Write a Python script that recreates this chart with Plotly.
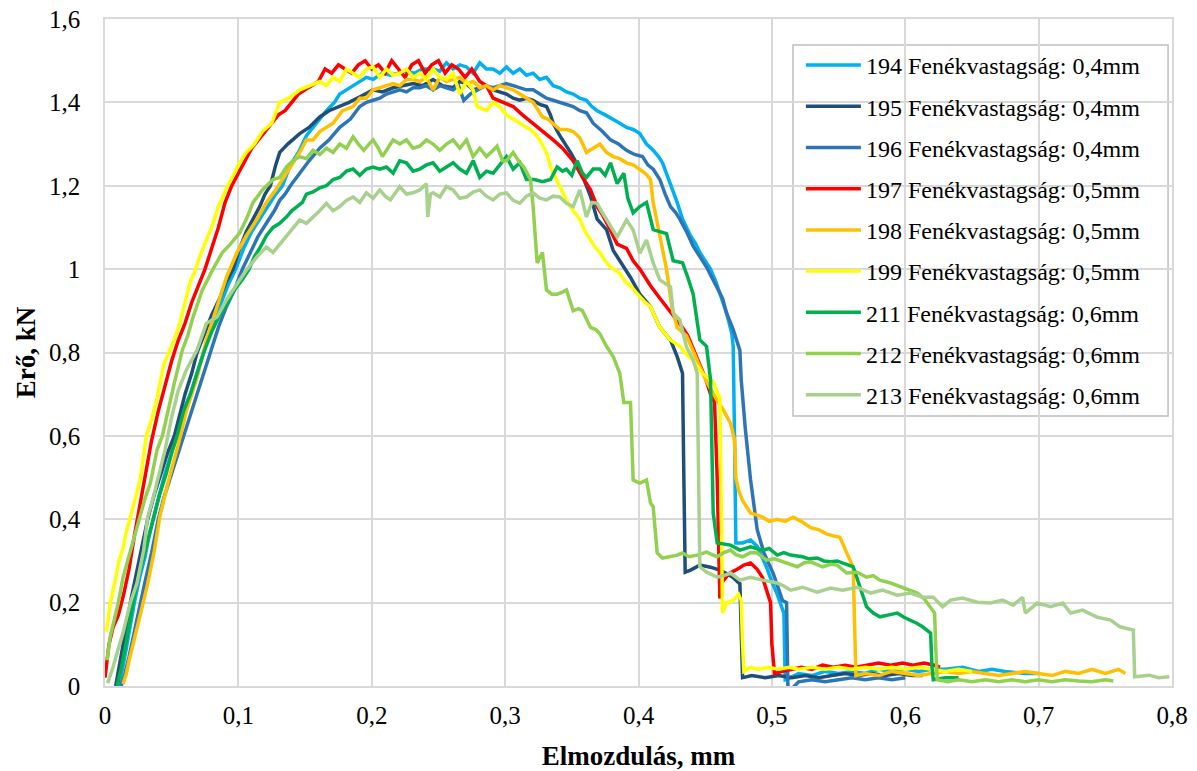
import plotly.graph_objects as go

# ---------------- data ----------------
names = ["194 Fenékvastagság: 0,4mm", "195 Fenékvastagság: 0,4mm", "196 Fenékvastagság: 0,4mm",
         "197 Fenékvastagság: 0,5mm", "198 Fenékvastagság: 0,5mm", "199 Fenékvastagság: 0,5mm",
         "211 Fenékvastagság: 0,6mm", "212 Fenékvastagság: 0,6mm", "213 Fenékvastagság: 0,6mm"]
colors = ["#00B0F0", "#1F4E79", "#2E75B6", "#FF0000", "#FFC000", "#FFFF00", "#00B050", "#92D050", "#A9D18E"]

x_194 = [0.01, 0.013, 0.016, 0.019, 0.022, 0.026, 0.03, 0.033, 0.036, 0.04,
         0.045, 0.05, 0.054, 0.059, 0.064, 0.069, 0.074, 0.08, 0.086, 0.092,
         0.098, 0.104, 0.11, 0.116, 0.122, 0.128, 0.133, 0.139, 0.145, 0.151,
         0.156, 0.161, 0.166, 0.172, 0.176, 0.181, 0.186, 0.191, 0.196, 0.201,
         0.208, 0.214, 0.22, 0.226, 0.232, 0.238, 0.246, 0.251, 0.256, 0.261,
         0.266, 0.271, 0.276, 0.281, 0.286, 0.291, 0.296, 0.301, 0.306, 0.311,
         0.316, 0.321, 0.326, 0.331, 0.336, 0.341, 0.346, 0.351, 0.356, 0.361,
         0.365, 0.369, 0.375, 0.381, 0.386, 0.391, 0.396, 0.401, 0.406, 0.411,
         0.415, 0.418, 0.421, 0.424, 0.429, 0.433, 0.436, 0.439, 0.443, 0.446,
         0.45, 0.454, 0.458, 0.461, 0.466, 0.47, 0.471, 0.472, 0.473, 0.478,
         0.484, 0.489, 0.496, 0.5, 0.504, 0.509, 0.51, 0.514, 0.52, 0.53,
         0.54, 0.55, 0.56, 0.57, 0.58, 0.59, 0.6, 0.61, 0.62, 0.63,
         0.643, 0.655, 0.665, 0.675, 0.69, 0.7]
y_194 = [0.0, 0.04, 0.09, 0.15, 0.2, 0.26, 0.31, 0.36, 0.4, 0.45,
         0.51, 0.56, 0.6, 0.66, 0.7, 0.75, 0.8, 0.86, 0.91, 0.96,
         1.0, 1.05, 1.09, 1.12, 1.15, 1.18, 1.2, 1.25, 1.28, 1.32,
         1.34, 1.36, 1.38, 1.4, 1.42, 1.43, 1.44, 1.45, 1.46, 1.455,
         1.47, 1.465, 1.47, 1.475, 1.47, 1.48, 1.48, 1.475, 1.495, 1.48,
         1.49, 1.485, 1.47, 1.495, 1.48, 1.48, 1.47, 1.485, 1.47, 1.48,
         1.465, 1.47, 1.455, 1.46, 1.44, 1.435, 1.425, 1.42, 1.41, 1.405,
         1.39, 1.38, 1.37, 1.36, 1.35, 1.34, 1.335, 1.325, 1.3, 1.285,
         1.27, 1.255, 1.23, 1.2, 1.16, 1.12, 1.1, 1.08, 1.06, 1.04,
         1.02, 1.0, 0.97, 0.94, 0.895, 0.845, 0.815, 0.6, 0.343, 0.343,
         0.35, 0.335, 0.285, 0.25, 0.22, 0.175, 0.015, 0.02, 0.03, 0.025,
         0.035, 0.03, 0.035, 0.03, 0.04, 0.035, 0.04, 0.035, 0.04, 0.04,
         0.045, 0.035, 0.04, 0.035, 0.03, 0.03]

x_195 = [0.008, 0.011, 0.014, 0.017, 0.019, 0.023, 0.027, 0.032, 0.037, 0.042,
         0.047, 0.052, 0.056, 0.06, 0.065, 0.069, 0.074, 0.08, 0.086, 0.091,
         0.096, 0.101, 0.106, 0.111, 0.116, 0.12, 0.124, 0.128, 0.131, 0.137,
         0.146, 0.153, 0.161, 0.168, 0.176, 0.183, 0.189, 0.195, 0.201, 0.208,
         0.216, 0.223, 0.231, 0.238, 0.246, 0.253, 0.261, 0.266, 0.271, 0.276,
         0.281, 0.286, 0.291, 0.296, 0.301, 0.306, 0.311, 0.316, 0.321, 0.326,
         0.331, 0.334, 0.336, 0.341, 0.345, 0.349, 0.356, 0.36, 0.364, 0.369,
         0.376, 0.381, 0.386, 0.39, 0.394, 0.401, 0.405, 0.409, 0.416, 0.42,
         0.424, 0.429, 0.433, 0.434, 0.435, 0.439, 0.446, 0.454, 0.461, 0.466,
         0.471, 0.476, 0.477, 0.478, 0.485, 0.495, 0.505, 0.515, 0.525, 0.535,
         0.545, 0.555, 0.565, 0.575, 0.585, 0.595, 0.605, 0.613]
y_195 = [0.0, 0.05, 0.1, 0.16, 0.2, 0.26, 0.32, 0.4, 0.46, 0.51,
         0.56, 0.6, 0.65, 0.7, 0.75, 0.8, 0.84, 0.89, 0.93, 0.97,
         1.0, 1.05, 1.09, 1.12, 1.15, 1.18, 1.2, 1.25, 1.28, 1.3,
         1.325, 1.34, 1.365, 1.38, 1.39, 1.4, 1.41, 1.42, 1.43, 1.425,
         1.435, 1.44, 1.445, 1.44, 1.455, 1.44, 1.435, 1.45, 1.445, 1.43,
         1.435, 1.44, 1.43, 1.425, 1.42, 1.41, 1.405, 1.41, 1.405, 1.395,
         1.39, 1.37, 1.35, 1.32, 1.3, 1.28, 1.24, 1.21, 1.175, 1.12,
         1.095, 1.045, 1.02, 1.0, 0.98, 0.94, 0.925, 0.91, 0.86, 0.845,
         0.83, 0.79, 0.75, 0.5, 0.273, 0.278, 0.29, 0.285, 0.278, 0.27,
         0.26, 0.245, 0.12, 0.02, 0.025, 0.02, 0.025, 0.02, 0.025, 0.02,
         0.025, 0.03, 0.025, 0.03, 0.025, 0.03, 0.025, 0.025]

x_196 = [0.012, 0.015, 0.018, 0.022, 0.026, 0.03, 0.035, 0.04, 0.044, 0.049,
         0.054, 0.059, 0.064, 0.069, 0.074, 0.079, 0.085, 0.091, 0.097, 0.103,
         0.109, 0.115, 0.121, 0.127, 0.131, 0.135, 0.139, 0.146, 0.153, 0.161,
         0.168, 0.176, 0.184, 0.191, 0.196, 0.201, 0.206, 0.211, 0.216, 0.221,
         0.226, 0.231, 0.236, 0.241, 0.246, 0.251, 0.256, 0.261, 0.265, 0.269,
         0.274, 0.279, 0.285, 0.291, 0.296, 0.301, 0.306, 0.311, 0.316, 0.321,
         0.326, 0.331, 0.336, 0.341, 0.346, 0.351, 0.356, 0.361, 0.366, 0.373,
         0.379, 0.385, 0.391, 0.397, 0.403, 0.407, 0.411, 0.416, 0.42, 0.424,
         0.428, 0.431, 0.436, 0.441, 0.446, 0.451, 0.455, 0.459, 0.463, 0.466,
         0.471, 0.476, 0.477, 0.48, 0.484, 0.489, 0.494, 0.501, 0.508, 0.511,
         0.512, 0.514, 0.52, 0.53, 0.54, 0.55, 0.56, 0.57, 0.58, 0.59, 0.6]
y_196 = [0.0, 0.03, 0.07, 0.13, 0.2, 0.25, 0.32, 0.4, 0.45, 0.5,
         0.55, 0.6, 0.65, 0.7, 0.75, 0.8, 0.86, 0.91, 0.95, 1.0,
         1.04, 1.08, 1.11, 1.14, 1.165, 1.18, 1.2, 1.23, 1.26, 1.29,
         1.31, 1.34, 1.36, 1.39, 1.4, 1.405, 1.41, 1.42, 1.425, 1.43,
         1.425, 1.435, 1.435, 1.44, 1.43, 1.44, 1.435, 1.43, 1.44, 1.405,
         1.42, 1.43, 1.44, 1.435, 1.44, 1.445, 1.44, 1.435, 1.43, 1.43,
         1.42, 1.41, 1.405, 1.4, 1.395, 1.39, 1.38, 1.375, 1.35, 1.33,
         1.31, 1.3, 1.285, 1.275, 1.27, 1.25, 1.24, 1.215, 1.18, 1.15,
         1.135, 1.12, 1.09, 1.055, 1.03, 1.005, 0.98, 0.957, 0.93, 0.895,
         0.855, 0.805, 0.735, 0.62, 0.495, 0.375, 0.32, 0.27, 0.205, 0.2,
         0.0, -0.01, 0.01, 0.015, 0.01, 0.015, 0.02, 0.015, 0.02, 0.015, 0.02]

x_197 = [0, 0.003, 0.006, 0.01, 0.014, 0.018, 0.022, 0.026, 0.03, 0.035,
         0.04, 0.045, 0.05, 0.055, 0.06, 0.065, 0.07, 0.075, 0.08, 0.085,
         0.09, 0.095, 0.1, 0.105, 0.11, 0.115, 0.12, 0.125, 0.13, 0.135,
         0.14, 0.145, 0.15, 0.155, 0.16, 0.165, 0.17, 0.175, 0.18, 0.185,
         0.19, 0.195, 0.2, 0.205, 0.21, 0.215, 0.22, 0.225, 0.23, 0.235,
         0.24, 0.245, 0.25, 0.255, 0.26, 0.265, 0.27, 0.275, 0.281, 0.286,
         0.291, 0.298, 0.306, 0.313, 0.321, 0.328, 0.336, 0.343, 0.351, 0.358,
         0.364, 0.369, 0.373, 0.378, 0.384, 0.391, 0.396, 0.401, 0.405, 0.409,
         0.416, 0.421, 0.426, 0.433, 0.437, 0.441, 0.446, 0.45, 0.454, 0.457,
         0.459, 0.46, 0.461, 0.463, 0.468, 0.474, 0.479, 0.484, 0.489, 0.493,
         0.497, 0.499, 0.5, 0.502, 0.508, 0.515, 0.522, 0.53, 0.538, 0.546,
         0.555, 0.563, 0.572, 0.58, 0.589, 0.598, 0.606, 0.614, 0.622, 0.626]
y_197 = [0.02, 0.1, 0.14, 0.17, 0.22, 0.28, 0.36, 0.43, 0.5, 0.59,
         0.66, 0.72, 0.78, 0.83, 0.87, 0.92, 0.96, 1.0, 1.05, 1.1,
         1.16, 1.2, 1.23, 1.26, 1.29, 1.31, 1.33, 1.35, 1.37, 1.38,
         1.4, 1.42, 1.43, 1.44, 1.45, 1.48, 1.47, 1.49, 1.48, 1.47,
         1.49, 1.5, 1.48, 1.49, 1.47, 1.5, 1.48, 1.46, 1.49, 1.5,
         1.47, 1.49, 1.5, 1.47, 1.49, 1.48, 1.46, 1.48, 1.45, 1.44,
         1.41, 1.4, 1.39, 1.37, 1.35, 1.33, 1.31, 1.29, 1.26, 1.22,
         1.19, 1.15, 1.13, 1.1, 1.06, 1.05, 1.02, 1.0, 0.98, 0.96,
         0.93, 0.91, 0.89, 0.86, 0.84, 0.81, 0.77, 0.74, 0.7, 0.68,
         0.5, 0.3, 0.21, 0.25, 0.27, 0.28, 0.29, 0.295, 0.28, 0.26,
         0.22, 0.2, 0.1, 0.03, 0.035, 0.04, 0.045, 0.04, 0.05, 0.045,
         0.05, 0.045, 0.05, 0.055, 0.05, 0.055, 0.05, 0.055, 0.05, 0.045]

x_198 = [0.0135, 0.016, 0.018, 0.021, 0.026, 0.029, 0.032, 0.037, 0.041, 0.047,
         0.051, 0.055, 0.061, 0.065, 0.069, 0.076, 0.08, 0.084, 0.091, 0.099,
         0.106, 0.114, 0.121, 0.128, 0.136, 0.14, 0.146, 0.151, 0.156, 0.161,
         0.166, 0.171, 0.178, 0.186, 0.191, 0.196, 0.201, 0.206, 0.211, 0.216,
         0.221, 0.226, 0.231, 0.236, 0.241, 0.246, 0.251, 0.256, 0.261, 0.266,
         0.271, 0.276, 0.281, 0.286, 0.291, 0.296, 0.301, 0.306, 0.311, 0.316,
         0.321, 0.325, 0.328, 0.332, 0.336, 0.341, 0.346, 0.351, 0.356, 0.361,
         0.366, 0.371, 0.376, 0.381, 0.386, 0.391, 0.396, 0.401, 0.405, 0.409,
         0.411, 0.416, 0.421, 0.425, 0.429, 0.436, 0.441, 0.446, 0.451, 0.459,
         0.464, 0.469, 0.472, 0.473, 0.475, 0.478, 0.484, 0.489, 0.493, 0.498,
         0.504, 0.51, 0.516, 0.522, 0.529, 0.535, 0.541, 0.546, 0.551, 0.556,
         0.561, 0.562, 0.563, 0.57, 0.58, 0.59, 0.6, 0.61, 0.62, 0.63,
         0.64, 0.65, 0.66, 0.67, 0.68, 0.69, 0.7, 0.71, 0.72, 0.73,
         0.74, 0.75, 0.76, 0.765]
y_198 = [0.005, 0.03, 0.06, 0.1, 0.165, 0.2, 0.245, 0.325, 0.405, 0.485,
         0.53, 0.58, 0.66, 0.7, 0.74, 0.83, 0.87, 0.91, 0.98, 1.04,
         1.08, 1.12, 1.16, 1.19, 1.23, 1.25, 1.28, 1.31, 1.31, 1.33,
         1.34, 1.35, 1.38, 1.39, 1.41, 1.41, 1.43, 1.435, 1.44, 1.445,
         1.44, 1.455, 1.455, 1.45, 1.46, 1.43, 1.46, 1.45, 1.455, 1.46,
         1.445, 1.45, 1.435, 1.44, 1.43, 1.44, 1.435, 1.43, 1.42, 1.41,
         1.4, 1.38, 1.365, 1.36, 1.35, 1.335, 1.335, 1.33, 1.315, 1.28,
         1.29, 1.3, 1.28, 1.27, 1.265, 1.255, 1.25, 1.24, 1.23, 1.215,
         1.16, 1.08, 1.0, 0.91, 0.86, 0.84, 0.805, 0.765, 0.73, 0.685,
         0.66, 0.63, 0.59, 0.5, 0.47, 0.445, 0.415, 0.41, 0.405, 0.395,
         0.4, 0.395, 0.405, 0.395, 0.38, 0.375, 0.365, 0.36, 0.357, 0.32,
         0.285, 0.15, 0.025, 0.03, 0.025, 0.035, 0.03, 0.025, 0.03, 0.035,
         0.03, 0.035, 0.03, 0.025, 0.03, 0.035, 0.03, 0.025, 0.035, 0.03,
         0.04, 0.03, 0.04, 0.03]

x_199 = [0.001, 0.004, 0.0075, 0.0105, 0.0135, 0.016, 0.019, 0.022, 0.026, 0.028,
         0.031, 0.035, 0.039, 0.044, 0.049, 0.053, 0.056, 0.06, 0.064, 0.068,
         0.071, 0.076, 0.08, 0.085, 0.092, 0.097, 0.1, 0.106, 0.112, 0.118,
         0.125, 0.131, 0.138, 0.146, 0.153, 0.161, 0.166, 0.171, 0.176, 0.181,
         0.186, 0.191, 0.196, 0.201, 0.206, 0.211, 0.216, 0.221, 0.226, 0.231,
         0.236, 0.241, 0.246, 0.251, 0.256, 0.261, 0.266, 0.271, 0.276, 0.279,
         0.286, 0.291, 0.296, 0.301, 0.306, 0.311, 0.316, 0.321, 0.326, 0.331,
         0.334, 0.339, 0.346, 0.351, 0.356, 0.36, 0.364, 0.368, 0.371, 0.375,
         0.379, 0.386, 0.39, 0.394, 0.398, 0.401, 0.405, 0.409, 0.413, 0.416,
         0.42, 0.424, 0.431, 0.436, 0.441, 0.448, 0.452, 0.456, 0.461, 0.462,
         0.463, 0.466, 0.471, 0.475, 0.477, 0.478, 0.479, 0.484, 0.49, 0.497,
         0.505, 0.513, 0.52, 0.53, 0.54, 0.55, 0.56, 0.57, 0.58, 0.59,
         0.6, 0.61, 0.62, 0.63, 0.64, 0.65]
y_199 = [0.13, 0.2, 0.25, 0.3, 0.33, 0.37, 0.405, 0.44, 0.49, 0.53,
         0.6, 0.64, 0.69, 0.77, 0.81, 0.84, 0.87, 0.92, 0.97, 1.0,
         1.03, 1.07, 1.1, 1.15, 1.2, 1.23, 1.25, 1.28, 1.3, 1.33,
         1.35, 1.4, 1.41, 1.43, 1.44, 1.45, 1.44, 1.46, 1.45, 1.48,
         1.47, 1.46, 1.48, 1.485, 1.46, 1.48, 1.465, 1.47, 1.48, 1.46,
         1.47, 1.455, 1.48, 1.46, 1.455, 1.47, 1.42, 1.45, 1.43, 1.39,
         1.38, 1.4, 1.39, 1.37, 1.36, 1.35, 1.34, 1.33, 1.31, 1.28,
         1.245, 1.21, 1.165, 1.14, 1.12, 1.09, 1.07, 1.05, 1.04, 1.02,
         1.005, 0.99, 0.97, 0.96, 0.945, 0.935, 0.92, 0.91, 0.88, 0.86,
         0.845, 0.83, 0.815, 0.795, 0.78, 0.75, 0.74, 0.73, 0.69, 0.45,
         0.175, 0.2, 0.205, 0.22, 0.205, 0.1, 0.035, 0.045, 0.04, 0.045,
         0.04, 0.045, 0.04, 0.045, 0.04, 0.045, 0.04, 0.045, 0.04, 0.045,
         0.04, 0.045, 0.04, 0.035, 0.04, 0.035]

x_211 = [0.009, 0.012, 0.015, 0.018, 0.021, 0.025, 0.029, 0.033, 0.036, 0.041,
         0.046, 0.05, 0.054, 0.059, 0.064, 0.069, 0.074, 0.08, 0.086, 0.092,
         0.097, 0.103, 0.108, 0.112, 0.116, 0.121, 0.126, 0.131, 0.136, 0.14,
         0.144, 0.148, 0.151, 0.156, 0.161, 0.166, 0.171, 0.176, 0.181, 0.186,
         0.191, 0.196, 0.201, 0.206, 0.211, 0.216, 0.221, 0.226, 0.231, 0.236,
         0.241, 0.246, 0.251, 0.256, 0.261, 0.266, 0.271, 0.276, 0.281, 0.286,
         0.291, 0.296, 0.301, 0.306, 0.311, 0.316, 0.322, 0.328, 0.334, 0.339,
         0.343, 0.346, 0.35, 0.354, 0.358, 0.361, 0.366, 0.371, 0.375, 0.379,
         0.384, 0.389, 0.392, 0.396, 0.401, 0.406, 0.411, 0.416, 0.421, 0.426,
         0.433, 0.437, 0.441, 0.446, 0.451, 0.454, 0.455, 0.456, 0.459, 0.464,
         0.469, 0.476, 0.484, 0.493, 0.498, 0.504, 0.509, 0.514, 0.523, 0.528,
         0.534, 0.539, 0.544, 0.549, 0.553, 0.561, 0.566, 0.571, 0.576, 0.581,
         0.587, 0.594, 0.599, 0.604, 0.609, 0.613, 0.619, 0.62, 0.621, 0.63,
         0.64]
y_211 = [0.0, 0.04, 0.09, 0.15, 0.2, 0.26, 0.31, 0.36, 0.4, 0.46,
         0.51, 0.56, 0.6, 0.66, 0.7, 0.75, 0.8, 0.85, 0.89, 0.92,
         0.95, 0.975, 1.0, 1.03, 1.05, 1.08, 1.1, 1.11, 1.125, 1.14,
         1.15, 1.16, 1.18, 1.185, 1.195, 1.2, 1.215, 1.22, 1.235, 1.24,
         1.225, 1.24, 1.245, 1.24, 1.245, 1.23, 1.26, 1.255, 1.235, 1.24,
         1.25, 1.255, 1.235, 1.245, 1.255, 1.24, 1.23, 1.26, 1.22, 1.235,
         1.23, 1.25, 1.27, 1.24, 1.255, 1.215, 1.215, 1.21, 1.215, 1.245,
         1.235, 1.24, 1.225, 1.26, 1.23, 1.22, 1.24, 1.24, 1.225, 1.255,
         1.205, 1.23, 1.17, 1.135, 1.15, 1.16, 1.095, 1.09, 1.085, 1.02,
         1.015, 0.98, 0.94, 0.83, 0.815, 0.735, 0.575, 0.415, 0.343, 0.34,
         0.338, 0.326, 0.334, 0.326, 0.33, 0.314, 0.32, 0.314, 0.31, 0.305,
         0.307, 0.3, 0.298, 0.3, 0.295, 0.286, 0.238, 0.19, 0.175, 0.166,
         0.17, 0.175, 0.165, 0.158, 0.15, 0.142, 0.127, 0.05, 0.015, 0.02,
         0.02]

x_212 = [0.0015, 0.004, 0.007, 0.01, 0.0135, 0.017, 0.021, 0.026, 0.03, 0.034,
         0.039, 0.043, 0.046, 0.052, 0.058, 0.062, 0.066, 0.073, 0.081, 0.088,
         0.094, 0.101, 0.106, 0.111, 0.118, 0.126, 0.131, 0.136, 0.141, 0.146,
         0.151, 0.156, 0.161, 0.166, 0.171, 0.176, 0.181, 0.186, 0.19, 0.194,
         0.198, 0.201, 0.205, 0.208, 0.212, 0.216, 0.221, 0.226, 0.231, 0.236,
         0.241, 0.246, 0.251, 0.256, 0.261, 0.266, 0.271, 0.276, 0.281, 0.286,
         0.291, 0.294, 0.298, 0.301, 0.306, 0.31, 0.314, 0.319, 0.321, 0.324,
         0.328, 0.331, 0.335, 0.339, 0.343, 0.346, 0.351, 0.355, 0.358, 0.364,
         0.368, 0.371, 0.376, 0.381, 0.386, 0.389, 0.394, 0.395, 0.396, 0.401,
         0.406, 0.409, 0.411, 0.414, 0.418, 0.423, 0.429, 0.433, 0.438, 0.444,
         0.451, 0.459, 0.464, 0.469, 0.473, 0.478, 0.484, 0.489, 0.496, 0.502,
         0.508, 0.514, 0.519, 0.524, 0.529, 0.538, 0.544, 0.549, 0.556, 0.564,
         0.571, 0.576, 0.581, 0.589, 0.598, 0.603, 0.609, 0.614, 0.619, 0.622,
         0.623, 0.624, 0.632, 0.64, 0.65, 0.66, 0.67, 0.68, 0.69, 0.7,
         0.71, 0.72, 0.73, 0.74, 0.75, 0.756]
y_212 = [0.062, 0.12, 0.16, 0.2, 0.26, 0.3, 0.343, 0.405, 0.45, 0.487,
         0.566, 0.6, 0.645, 0.727, 0.806, 0.84, 0.885, 0.95, 1.0, 1.04,
         1.06, 1.087, 1.12, 1.16, 1.19, 1.215, 1.22, 1.245, 1.26, 1.27,
         1.265, 1.285, 1.275, 1.29, 1.28, 1.3, 1.29, 1.317, 1.3, 1.285,
         1.3, 1.31, 1.29, 1.27, 1.29, 1.31, 1.3, 1.31, 1.29, 1.295,
         1.31, 1.3, 1.285, 1.3, 1.31, 1.29, 1.31, 1.27, 1.29, 1.27,
         1.285, 1.295, 1.26, 1.26, 1.28, 1.26, 1.245, 1.215, 1.15, 1.015,
         1.04, 0.95, 0.94, 0.94, 0.945, 0.95, 0.9, 0.905, 0.9, 0.86,
         0.855, 0.845, 0.815, 0.79, 0.75, 0.68, 0.68, 0.575, 0.494, 0.487,
         0.494, 0.439, 0.43, 0.319, 0.307, 0.31, 0.314, 0.319, 0.31, 0.314,
         0.321, 0.31, 0.32, 0.326, 0.315, 0.31, 0.32, 0.319, 0.302, 0.305,
         0.298, 0.29, 0.286, 0.295, 0.298, 0.286, 0.292, 0.29, 0.271, 0.273,
         0.261, 0.265, 0.254, 0.247, 0.237, 0.23, 0.223, 0.21, 0.19, 0.175,
         0.08, 0.015, 0.01, 0.015, 0.01, 0.015, 0.01, 0.015, 0.01, 0.015,
         0.01, 0.015, 0.012, 0.01, 0.015, 0.012]

x_213 = [0.002, 0.006, 0.01, 0.0135, 0.019, 0.024, 0.029, 0.032, 0.036, 0.039,
         0.045, 0.05, 0.055, 0.061, 0.069, 0.076, 0.084, 0.091, 0.098, 0.106,
         0.114, 0.121, 0.126, 0.131, 0.136, 0.141, 0.146, 0.151, 0.156, 0.161,
         0.166, 0.171, 0.176, 0.181, 0.186, 0.191, 0.196, 0.201, 0.206, 0.21,
         0.214, 0.218, 0.221, 0.226, 0.231, 0.236, 0.241, 0.242, 0.244, 0.246,
         0.251, 0.256, 0.261, 0.266, 0.271, 0.276, 0.281, 0.286, 0.291, 0.296,
         0.301, 0.306, 0.311, 0.316, 0.321, 0.326, 0.331, 0.336, 0.341, 0.346,
         0.351, 0.356, 0.361, 0.365, 0.369, 0.372, 0.376, 0.38, 0.384, 0.388,
         0.391, 0.396, 0.401, 0.406, 0.411, 0.416, 0.42, 0.424, 0.426, 0.431,
         0.436, 0.441, 0.444, 0.4445, 0.445, 0.446, 0.451, 0.459, 0.464, 0.469,
         0.476, 0.484, 0.493, 0.504, 0.509, 0.514, 0.523, 0.534, 0.544, 0.553,
         0.564, 0.574, 0.583, 0.594, 0.604, 0.613, 0.621, 0.628, 0.634, 0.643,
         0.654, 0.664, 0.673, 0.681, 0.688, 0.69, 0.699, 0.709, 0.718, 0.724,
         0.733, 0.744, 0.754, 0.761, 0.771, 0.772, 0.783, 0.79, 0.798]
y_213 = [0.007, 0.045, 0.09, 0.127, 0.2, 0.247, 0.326, 0.405, 0.45, 0.487,
         0.566, 0.645, 0.71, 0.758, 0.806, 0.87, 0.885, 0.926, 0.96, 0.998,
         1.03, 1.053, 1.04, 1.06, 1.077, 1.1, 1.118, 1.11, 1.125, 1.14,
         1.158, 1.14, 1.15, 1.165, 1.173, 1.16, 1.183, 1.17, 1.19, 1.175,
         1.166, 1.185, 1.198, 1.18, 1.183, 1.19, 1.205, 1.125, 1.18, 1.183,
         1.173, 1.198, 1.19, 1.17, 1.173, 1.185, 1.19, 1.175, 1.166, 1.18,
         1.183, 1.165, 1.158, 1.175, 1.183, 1.17, 1.166, 1.175, 1.173, 1.158,
         1.15, 1.19, 1.125, 1.16, 1.158, 1.14, 1.118, 1.1, 1.077, 1.1,
         1.118, 1.094, 1.038, 1.07, 1.015, 0.974, 0.965, 0.957, 0.895, 0.878,
         0.813, 0.782, 0.75, 0.614, 0.415, 0.286, 0.273, 0.261, 0.265, 0.271,
         0.254, 0.261, 0.254, 0.247, 0.24, 0.23, 0.237, 0.225, 0.235, 0.23,
         0.237, 0.223, 0.23, 0.218, 0.223, 0.213, 0.213, 0.19, 0.206, 0.211,
         0.201, 0.199, 0.206, 0.194, 0.213, 0.175, 0.199, 0.19, 0.199, 0.175,
         0.182, 0.165, 0.158, 0.142, 0.134, 0.022, 0.026, 0.02, 0.022]

series_x = [x_194, x_195, x_196, x_197, x_198, x_199, x_211, x_212, x_213]
series_y = [y_194, y_195, y_196, y_197, y_198, y_199, y_211, y_212, y_213]

x_ticks = [0, 0.1, 0.2, 0.3, 0.4, 0.5, 0.6, 0.7, 0.8]
y_ticks = [0, 0.2, 0.4, 0.6, 0.8, 1.0, 1.2, 1.4, 1.6]

# ---------------- figure ----------------
FONT = "Liberation Serif, Times New Roman, serif"
fig = go.Figure()
for i, (nm, col) in enumerate(zip(names, colors)):
    fig.add_trace(go.Scatter(
        x=series_x[i], y=series_y[i], mode="lines", name=nm,
        legendgroup="g%d" % i,
        line=dict(color=col, width=3.5),
    ))

grid = "#D9D9D9"
fig.update_layout(
    width=1197, height=771,
    margin=dict(l=105, r=25, t=19, b=85),
    paper_bgcolor="white", plot_bgcolor="white",
    separators=", ",
    font=dict(family=FONT, size=25, color="black"),
    showlegend=True,
    legend=dict(
        x=0.6522, y=0.964, xanchor="left", yanchor="top",
        bgcolor="rgba(255,255,255,0)", borderwidth=0,
        font=dict(family=FONT, size=24, color="black"),
        tracegroupgap=7, itemwidth=55,
        traceorder="grouped",
    ),
    shapes=[dict(type="rect", xref="paper", yref="paper",
                 x0=0.6448, x1=0.9963, y0=0.4048, y1=0.961,
                 line=dict(color="#BFBFBF", width=1.5), fillcolor="white", layer="below")],
    xaxis=dict(
        range=[0, 0.8], tickvals=x_ticks, showgrid=True, gridcolor=grid, gridwidth=1.5,
        zeroline=False, showline=True, linecolor=grid, linewidth=1.5, mirror=True,
        ticks="", ticklabelstandoff=6, automargin=False,
        tickfont=dict(family=FONT, size=25),
        title=dict(text="<b>Elmozdulás, mm</b>", font=dict(family=FONT, size=27), standoff=19),
    ),
    yaxis=dict(
        range=[0, 1.6], tickvals=y_ticks, showgrid=True, gridcolor=grid, gridwidth=1.5,
        zeroline=False, showline=True, linecolor=grid, linewidth=1.5, mirror=True,
        ticks="", ticklabelstandoff=18, automargin=False,
        tickfont=dict(family=FONT, size=25),
        title=dict(text="<b>Erő, kN</b>", font=dict(family=FONT, size=27), standoff=6),
    ),
)

fig.write_html("out.html", config={"displayModeBar": False},
               post_script="document.body.style.margin='0';")
